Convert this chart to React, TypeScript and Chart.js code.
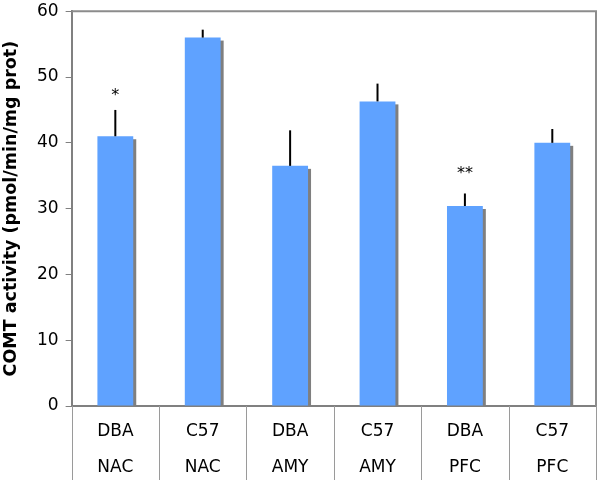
import React, { useEffect, useRef } from 'react';
import { Chart, registerables } from 'chart.js';

Chart.register(...registerables);

// data
const strains = ['DBA', 'C57', 'DBA', 'C57', 'DBA', 'C57'];
const regions = ['NAC', 'NAC', 'AMY', 'AMY', 'PFC', 'PFC'];
const activity = [41, 56, 36.5, 46.3, 30.4, 40];
const sem = [4, 1.2, 5.4, 2.7, 1.9, 2.1];
const marks = ['*', '', '', '', '**', ''];
const markLevel = [47.6, 0, 0, 0, 35.7, 0];
const yTicks = [0, 10, 20, 30, 40, 50, 60];

const FONT = "'DejaVu Sans', Verdana, sans-serif";

const extras = {
  id: 'extras',
  beforeDatasetsDraw(chart: any) {
    // grey drop shadow behind each bar
    const ctx = chart.ctx;
    const meta = chart.getDatasetMeta(0);
    ctx.save();
    ctx.fillStyle = '#7f7f7f';
    meta.data.forEach((bar: any) => {
      const w = bar.width;
      ctx.fillRect(bar.x - w / 2 + 3, bar.y + 3, w, bar.base - bar.y - 3);
    });
    ctx.restore();
  },
  afterDatasetsDraw(chart: any) {
    const ctx = chart.ctx;
    const x = chart.scales.x;
    const y = chart.scales.y;
    const area = chart.chartArea;
    const meta = chart.getDatasetMeta(0);
    ctx.save();

    // error bars (upper half only)
    ctx.strokeStyle = '#000';
    ctx.lineWidth = 2;
    meta.data.forEach((bar: any, i: number) => {
      ctx.beginPath();
      ctx.moveTo(bar.x, y.getPixelForValue(activity[i]));
      ctx.lineTo(bar.x, y.getPixelForValue(activity[i] + sem[i]));
      ctx.stroke();
    });

    // significance marks
    ctx.fillStyle = '#000';
    ctx.font = `16px ${FONT}`;
    ctx.textAlign = 'center';
    ctx.textBaseline = 'middle';
    marks.forEach((m, i) => {
      if (!m) return;
      ctx.fillText(m, x.getPixelForValue(i), y.getPixelForValue(markLevel[i]) + 3);
    });

    // frame top + right
    ctx.strokeStyle = '#8c8c8c';
    ctx.lineWidth = 2;
    ctx.beginPath();
    ctx.moveTo(area.left, area.top);
    ctx.lineTo(area.right, area.top);
    ctx.lineTo(area.right, area.bottom);
    ctx.stroke();

    // category table dividers under the axis
    ctx.lineWidth = 1;
    ctx.strokeStyle = '#9a9a9a';
    const half = (x.getPixelForValue(1) - x.getPixelForValue(0)) / 2;
    for (let i = 0; i <= strains.length; i++) {
      const px = Math.round(x.getPixelForValue(i) - half) + 0.5;
      ctx.beginPath();
      ctx.moveTo(px, area.bottom);
      ctx.lineTo(px, chart.height - 4);
      ctx.stroke();
    }
    ctx.restore();
  },
};

const App: React.FC = () => {
  const canvasRef = useRef<HTMLCanvasElement | null>(null);

  useEffect(() => {
    document.body.style.margin = '0';
    if (!canvasRef.current) return;
    const chart = new Chart(canvasRef.current, {
      type: 'bar',
      data: {
        labels: strains.map((s, i) => [s, regions[i]]),
        datasets: [
          {
            data: activity,
            backgroundColor: '#5fa2ff',
            borderWidth: 0,
            categoryPercentage: 1,
            barPercentage: 0.41,
          },
        ],
      },
      options: {
        responsive: false,
        animation: false,
        layout: { padding: { top: 0, right: 4, left: 1, bottom: -10 } },
        plugins: { legend: { display: false }, tooltip: { enabled: false } },
        scales: {
          x: {
            grid: { display: false, drawTicks: false },
            border: { color: '#808080', width: 2 },
            ticks: {
              color: '#000',
              padding: 8,
              font: { family: FONT, size: 17, lineHeight: 36 / 17 },
            },
          },
          y: {
            min: 0,
            max: 60,
            afterBuildTicks: (axis: any) => {
              axis.ticks = yTicks.map((v) => ({ value: v }));
            },
            grid: { drawOnChartArea: false, tickLength: 6, color: '#808080' },
            border: { color: '#808080', width: 2 },
            ticks: {
              color: '#000',
              padding: 7,
              font: { family: FONT, size: 17, lineHeight: 0.5 },
            },
            title: {
              display: true,
              text: 'COMT activity (pmol/min/mg prot)',
              color: '#000',
              padding: { top: 0, bottom: 8 },
              font: { family: FONT, size: 17.5, weight: 'bold' },
            },
          },
        },
      },
      plugins: [extras],
    });
    return () => chart.destroy();
  }, []);

  return <canvas ref={canvasRef} width={600} height={484} />;
};

export default App;
